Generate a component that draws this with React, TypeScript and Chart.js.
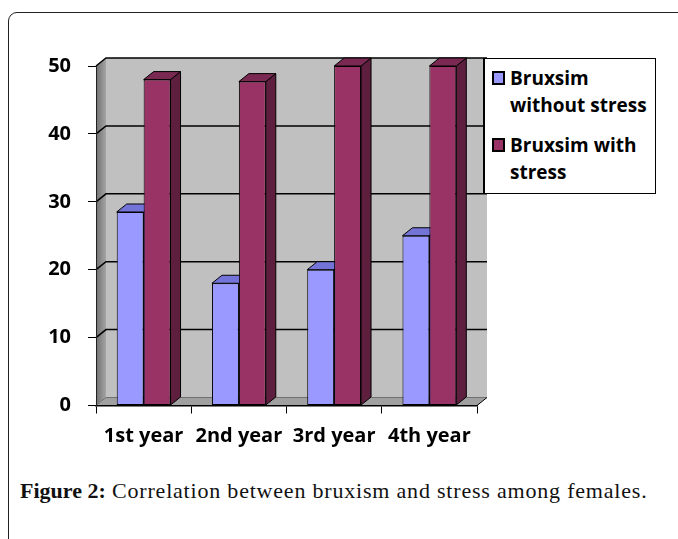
import React, { useEffect, useRef } from "react";
import { Chart, registerables } from "chart.js";

Chart.register(...registerables);

const categories = ["1st year", "2nd year", "3rd year", "4th year"];
const seriesNames = ["Bruxsim without stress", "Bruxsim with stress"];
const withoutStress = [28.5, 18, 20, 25];
const withStress = [48, 47.7, 50, 50];
const yTicks = [0, 10, 20, 30, 40, 50];

const frontColors = ["#9999FF", "#993366"];
const topColors = ["#7474D8", "#7A2952"];
const sideColors = ["#5C5CB8", "#5E1F3F"];

const DX = 10;
const DY = -8;

const threeD = {
  id: "threeD",
  beforeDraw(chart: any) {
    const { ctx, chartArea } = chart;
    const { left, right, bottom } = chartArea;
    const y = chart.scales.y;
    const top = y.getPixelForValue(yTicks[yTicks.length - 1]);
    ctx.save();
    // back wall
    ctx.fillStyle = "#C0C0C0";
    ctx.fillRect(left + DX, top + DY, right - left, bottom - top);
    // left wall
    const g = ctx.createLinearGradient(left, 0, left + DX, 0);
    g.addColorStop(0, "#707070");
    g.addColorStop(1, "#A4A4A4");
    ctx.fillStyle = g;
    ctx.beginPath();
    ctx.moveTo(left, top);
    ctx.lineTo(left + DX, top + DY);
    ctx.lineTo(left + DX, bottom + DY);
    ctx.lineTo(left, bottom);
    ctx.closePath();
    ctx.fill();
    // floor
    ctx.fillStyle = "#A0A0A0";
    ctx.beginPath();
    ctx.moveTo(left, bottom);
    ctx.lineTo(right, bottom);
    ctx.lineTo(right + DX, bottom + DY);
    ctx.lineTo(left + DX, bottom + DY);
    ctx.closePath();
    ctx.fill();
    // grid lines on walls
    yTicks.forEach((v) => {
      const py = y.getPixelForValue(v);
      ctx.strokeStyle = v === 0 ? "#707070" : "#000";
      ctx.lineWidth = v === 0 ? 1 : 1.5;
      ctx.beginPath();
      ctx.moveTo(left, py);
      ctx.lineTo(left + DX, py + DY);
      ctx.lineTo(right + DX, py + DY);
      ctx.stroke();
    });
    // floor right edge
    ctx.strokeStyle = "#000";
    ctx.lineWidth = 1;
    ctx.beginPath();
    ctx.moveTo(right, bottom);
    ctx.lineTo(right + DX, bottom + DY);
    ctx.stroke();
    ctx.restore();
  },
  beforeDatasetsDraw(chart: any) {
    const { ctx } = chart;
    ctx.save();
    ctx.lineWidth = 1;
    ctx.strokeStyle = "#000";
    ctx.lineJoin = "round";
    for (let d = 0; d < chart.data.datasets.length; d++) {
      const meta = chart.getDatasetMeta(d);
      meta.data.forEach((el: any) => {
        const { x, y, base, width } = el.getProps(["x", "y", "base", "width"], true);
        const l = x - width / 2;
        const r = x + width / 2;
        // side face
        ctx.fillStyle = sideColors[d];
        ctx.beginPath();
        ctx.moveTo(r, y);
        ctx.lineTo(r + DX, y + DY);
        ctx.lineTo(r + DX, base + DY);
        ctx.lineTo(r, base);
        ctx.closePath();
        ctx.fill();
        ctx.stroke();
        // top face
        ctx.fillStyle = topColors[d];
        ctx.beginPath();
        ctx.moveTo(l, y);
        ctx.lineTo(r, y);
        ctx.lineTo(r + DX, y + DY);
        ctx.lineTo(l + DX, y + DY);
        ctx.closePath();
        ctx.fill();
        ctx.stroke();
      });
    }
    ctx.restore();
  },
};

const CANVAS_W = 678;
const CANVAS_H = 460;
const AREA_LEFT = 96;
const AREA_RIGHT = 477;
const AREA_TOP = 66;
const AREA_BOTTOM = 405.5;

function ChartCanvas() {
  const ref = useRef<HTMLCanvasElement>(null);
  useEffect(() => {
    if (!ref.current) return;
    const tickFont = { family: "'Open Sans'", weight: "bold" as const, size: 20 };
    const chart = new Chart(ref.current, {
      type: "bar",
      data: {
        labels: categories,
        datasets: [
          {
            label: seriesNames[0],
            data: withoutStress,
            backgroundColor: frontColors[0],
            borderColor: "#000",
            borderWidth: 1,
            borderSkipped: false,
          },
          {
            label: seriesNames[1],
            data: withStress,
            backgroundColor: frontColors[1],
            borderColor: "#000",
            borderWidth: 1,
            borderSkipped: false,
          },
        ],
      },
      options: {
        animation: false,
        responsive: false,
        maintainAspectRatio: false,
        datasets: { bar: { barPercentage: 1, categoryPercentage: 0.565 } },
        layout: {
          padding: { left: 0, top: AREA_TOP, right: CANVAS_W - AREA_RIGHT, bottom: 0 },
        },
        plugins: { legend: { display: false }, tooltip: { enabled: false } },
        scales: {
          x: {
            afterFit(scale: any) {
              scale.height = CANVAS_H - AREA_BOTTOM;
            },
            grid: {
              offset: true,
              drawOnChartArea: false,
              drawTicks: true,
              tickLength: 8,
              color: "#000",
              lineWidth: 1,
            },
            border: { display: true, color: "#000", width: 1.5 },
            ticks: { color: "#000", font: tickFont, padding: 11, maxRotation: 0 },
          },
          y: {
            min: 0,
            max: 50,
            afterFit(scale: any) {
              scale.width = AREA_LEFT;
            },
            afterBuildTicks(scale: any) {
              scale.ticks = yTicks.map((v) => ({ value: v }));
            },
            grid: {
              drawOnChartArea: false,
              drawTicks: true,
              tickLength: 8,
              color: "#000",
              lineWidth: 1,
            },
            border: { display: true, color: "#222", width: 1 },
            ticks: { color: "#000", font: tickFont, padding: 17 },
          },
        },
      },
      plugins: [threeD],
    });
    return () => chart.destroy();
  }, []);
  return (
    <canvas
      ref={ref}
      width={CANVAS_W}
      height={CANVAS_H}
      style={{ position: "absolute", left: 0, top: 0, width: CANVAS_W, height: CANVAS_H }}
    />
  );
}

export default function App() {
  const legendCenters = [[78, 105], [145, 172]];
  return (
    <div
      style={{
        position: "fixed",
        left: 0,
        top: 0,
        width: 678,
        height: 539,
        overflow: "hidden",
        background: "#fff",
      }}
    >
      <div
        style={{
          position: "absolute",
          left: 8,
          top: 12,
          width: 760,
          height: 640,
          border: "1.5px solid #222",
          borderRadius: 9,
        }}
      />
      <ChartCanvas />
      <div
        style={{
          position: "absolute",
          left: 483,
          top: 58,
          width: 173,
          height: 136,
          boxSizing: "border-box",
          border: "1px solid #000",
          borderLeft: "2px solid #000",
          background: "#fff",
        }}
      />
      {seriesNames.map((name, i) => (
        <React.Fragment key={name}>
          <div
            style={{
              position: "absolute",
              left: 492,
              top: legendCenters[i][0] - 7,
              width: 13,
              height: 14,
              boxSizing: "border-box",
              border: "2px solid #000",
              background: frontColors[i],
            }}
          />
          <div
            style={{
              position: "absolute",
              left: 510,
              top: legendCenters[i][0] - 13.5,
              width: 142,
              fontFamily: "'Open Sans'",
              fontWeight: "bold",
              fontSize: 19,
              lineHeight: "27px",
              color: "#000",
            }}
          >
            {name}
          </div>
        </React.Fragment>
      ))}
      <div
        style={{
          position: "absolute",
          left: 20,
          top: 478,
          whiteSpace: "nowrap",
          fontFamily: "'Liberation Serif'",
          fontSize: 22,
          lineHeight: "26px",
          color: "#111",
        }}
      >
        <b>Figure 2:</b>
        <span style={{ letterSpacing: "0.8px" }}> Correlation between bruxism and stress among females.</span>
      </div>
    </div>
  );
}
